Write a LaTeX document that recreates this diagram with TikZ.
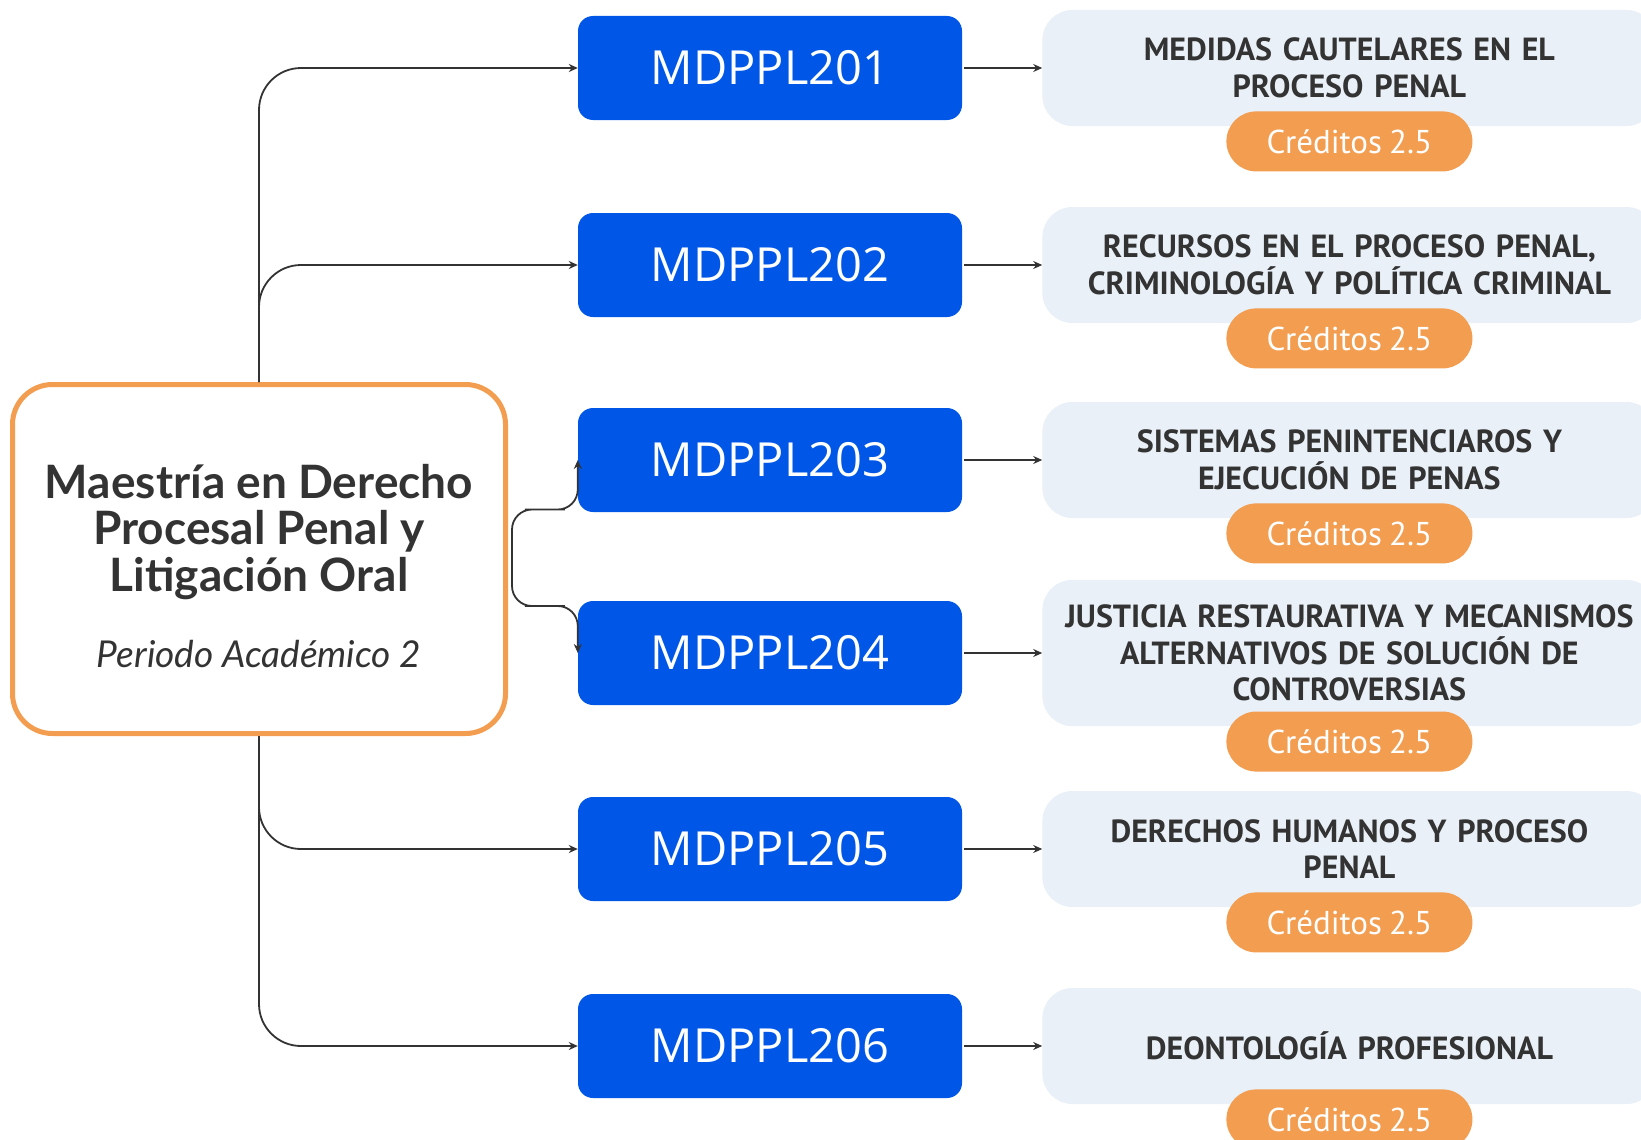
\documentclass[tikz,border=0pt]{standalone}
\usepackage{fontspec}
\setmainfont{Lato}
\newfontfamily\codefont{Open Sans}
\newfontfamily\topicfont[WordSpace=0.8]{PT Sans}
\usetikzlibrary{positioning}
\usetikzlibrary{calc}
\usetikzlibrary{arrows.meta}

\definecolor{codeblue}{RGB}{0,87,231}
\definecolor{topicgray}{RGB}{233,240,247}
\definecolor{pillorange}{RGB}{242,157,80}
\definecolor{inkgray}{RGB}{51,51,51}

\tikzset{
	codebox/.style={fill=codeblue, rounded corners=15pt, minimum width=384pt, minimum height=104pt,
		text=white, font=\codefont\fontsize{47}{56}\selectfont},
	topicbox/.style={fill=topicgray, rounded corners=30pt, text width=580pt, minimum height=116pt,
		inner xsep=17pt, inner ysep=25pt, align=center, text=inkgray,
		font=\topicfont\bfseries\fontsize{32}{36.5}\selectfont},
	creditpill/.style={fill=pillorange, rounded corners=29.9pt, minimum width=246pt, minimum height=60pt,
		inner sep=0pt, text=white, font=\topicfont\fontsize{33}{36}\selectfont},
	mainbox/.style={draw=pillorange, line width=5pt, fill=white, rounded corners=40pt,
		minimum width=493pt, minimum height=349pt},
	link/.style={draw=inkgray, line width=1.8pt, -{Stealth[length=9pt,width=8pt]}},
}

% name, y, code, topic
\newcommand{\drawcourse}[4]{
	\node[codebox] (b#1) at (770, #2) {MDPPL#3};
	\node[topicbox, right=80pt of b#1] (t#1) {#4};
	\node[creditpill, below=-15pt of t#1] (c#1) {Créditos 2.5};
	\draw[link, shorten <=2pt] (b#1.east) -- (t#1.west);
}

\begin{document}
\begin{tikzpicture}[x=1pt, y=-1pt]
\useasboundingbox (0,0) rectangle (1641,1140);
\clip (0,0) rectangle (1641,1140);

\drawcourse{1}{68}{201}{MEDIDAS CAUTELARES EN EL\\PROCESO PENAL};
\drawcourse{2}{265}{202}{RECURSOS EN EL PROCESO PENAL,\\CRIMINOLOGÍA Y POLÍTICA CRIMINAL};
\drawcourse{3}{460}{203}{SISTEMAS PENINTENCIAROS Y\\EJECUCIÓN DE PENAS};
\drawcourse{4}{653}{204}{JUSTICIA RESTAURATIVA Y MECANISMOS\\ALTERNATIVOS DE SOLUCIÓN DE\\CONTROVERSIAS};
\drawcourse{5}{849}{205}{DERECHOS HUMANOS Y PROCESO\\PENAL};
\drawcourse{6}{1046}{206}{DEONTOLOGÍA PROFESIONAL};

\node[mainbox] (main) at (259,559) {};
\node[font=\bfseries\fontsize{46}{46.5}\selectfont, text=inkgray, align=center] (mtitle) at (259,532)
	{Maestría en Derecho\\Procesal Penal y\\Litigación Oral};
\node[font=\itshape\fontsize{37}{40}\selectfont, text=inkgray] (msub) at (259,654) {Periodo Académico 2};

\draw[link, rounded corners=42pt] (main.north) |- (b1.west);
\draw[link, rounded corners=42pt] (main.north) |- (b2.west);
\draw[link, rounded corners=42pt] (main.south) |- (b5.west);
\draw[link, rounded corners=42pt] (main.south) |- (b6.west);

\coordinate (fork) at ([xshift=4pt]main.east);
\draw[link, rounded corners=20pt] (fork) |- ($(fork)!0.5!(b3.west)$) -| (b3.west);
\draw[link, rounded corners=20pt] (fork) |- ($(fork)!0.5!(b4.west)$) -| (b4.west);

\end{tikzpicture}
\end{document}
